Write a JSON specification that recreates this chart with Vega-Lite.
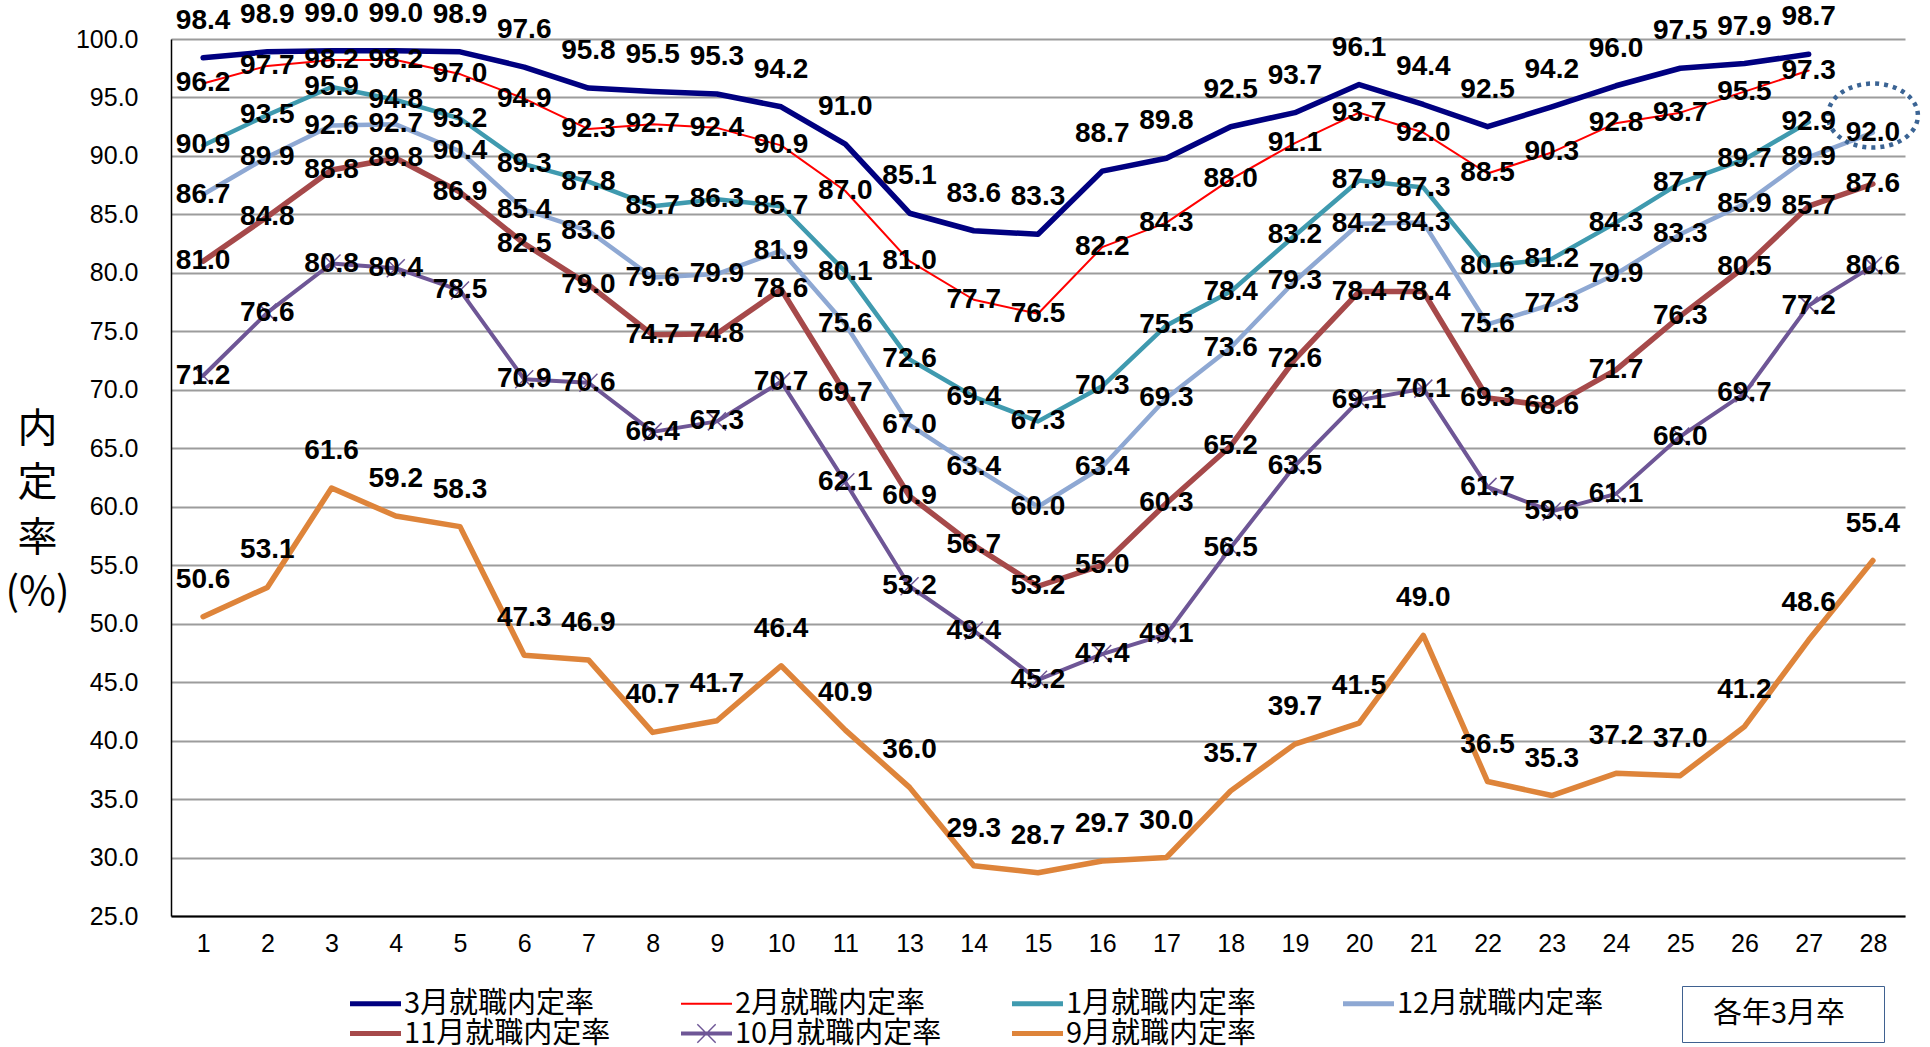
{
  "$schema": "https://vega.github.io/schema/vega-lite/v6.json",
  "width": 1734,
  "height": 877,
  "autosize": {"type": "none"},
  "padding": {"left": 171, "top": 39, "right": 25, "bottom": 131},
  "background": "white",
  "config": {"view": {"stroke": null}, "font": "Liberation Sans"},
  "layer": [
    {
      "data": {
        "values": [
          {"x": 1, "3月就職内定率": 98.4, "2月就職内定率": 96.2, "1月就職内定率": 90.9, "12月就職内定率": 86.7, "11月就職内定率": 81.0, "10月就職内定率": 71.2, "9月就職内定率": 50.6},
          {"x": 2, "3月就職内定率": 98.9, "2月就職内定率": 97.7, "1月就職内定率": 93.5, "12月就職内定率": 89.9, "11月就職内定率": 84.8, "10月就職内定率": 76.6, "9月就職内定率": 53.1},
          {"x": 3, "3月就職内定率": 99.0, "2月就職内定率": 98.2, "1月就職内定率": 95.9, "12月就職内定率": 92.6, "11月就職内定率": 88.8, "10月就職内定率": 80.8, "9月就職内定率": 61.6},
          {"x": 4, "3月就職内定率": 99.0, "2月就職内定率": 98.2, "1月就職内定率": 94.8, "12月就職内定率": 92.7, "11月就職内定率": 89.8, "10月就職内定率": 80.4, "9月就職内定率": 59.2},
          {"x": 5, "3月就職内定率": 98.9, "2月就職内定率": 97.0, "1月就職内定率": 93.2, "12月就職内定率": 90.4, "11月就職内定率": 86.9, "10月就職内定率": 78.5, "9月就職内定率": 58.3},
          {"x": 6, "3月就職内定率": 97.6, "2月就職内定率": 94.9, "1月就職内定率": 89.3, "12月就職内定率": 85.4, "11月就職内定率": 82.5, "10月就職内定率": 70.9, "9月就職内定率": 47.3},
          {"x": 7, "3月就職内定率": 95.8, "2月就職内定率": 92.3, "1月就職内定率": 87.8, "12月就職内定率": 83.6, "11月就職内定率": 79.0, "10月就職内定率": 70.6, "9月就職内定率": 46.9},
          {"x": 8, "3月就職内定率": 95.5, "2月就職内定率": 92.7, "1月就職内定率": 85.7, "12月就職内定率": 79.6, "11月就職内定率": 74.7, "10月就職内定率": 66.4, "9月就職内定率": 40.7},
          {"x": 9, "3月就職内定率": 95.3, "2月就職内定率": 92.4, "1月就職内定率": 86.3, "12月就職内定率": 79.9, "11月就職内定率": 74.8, "10月就職内定率": 67.3, "9月就職内定率": 41.7},
          {"x": 10, "3月就職内定率": 94.2, "2月就職内定率": 90.9, "1月就職内定率": 85.7, "12月就職内定率": 81.9, "11月就職内定率": 78.6, "10月就職内定率": 70.7, "9月就職内定率": 46.4},
          {"x": 11, "3月就職内定率": 91.0, "2月就職内定率": 87.0, "1月就職内定率": 80.1, "12月就職内定率": 75.6, "11月就職内定率": 69.7, "10月就職内定率": 62.1, "9月就職内定率": 40.9},
          {"x": 13, "3月就職内定率": 85.1, "2月就職内定率": 81.0, "1月就職内定率": 72.6, "12月就職内定率": 67.0, "11月就職内定率": 60.9, "10月就職内定率": 53.2, "9月就職内定率": 36.0},
          {"x": 14, "3月就職内定率": 83.6, "2月就職内定率": 77.7, "1月就職内定率": 69.4, "12月就職内定率": 63.4, "11月就職内定率": 56.7, "10月就職内定率": 49.4, "9月就職内定率": 29.3},
          {"x": 15, "3月就職内定率": 83.3, "2月就職内定率": 76.5, "1月就職内定率": 67.3, "12月就職内定率": 60.0, "11月就職内定率": 53.2, "10月就職内定率": 45.2, "9月就職内定率": 28.7},
          {"x": 16, "3月就職内定率": 88.7, "2月就職内定率": 82.2, "1月就職内定率": 70.3, "12月就職内定率": 63.4, "11月就職内定率": 55.0, "10月就職内定率": 47.4, "9月就職内定率": 29.7},
          {"x": 17, "3月就職内定率": 89.8, "2月就職内定率": 84.3, "1月就職内定率": 75.5, "12月就職内定率": 69.3, "11月就職内定率": 60.3, "10月就職内定率": 49.1, "9月就職内定率": 30.0},
          {"x": 18, "3月就職内定率": 92.5, "2月就職内定率": 88.0, "1月就職内定率": 78.4, "12月就職内定率": 73.6, "11月就職内定率": 65.2, "10月就職内定率": 56.5, "9月就職内定率": 35.7},
          {"x": 19, "3月就職内定率": 93.7, "2月就職内定率": 91.1, "1月就職内定率": 83.2, "12月就職内定率": 79.3, "11月就職内定率": 72.6, "10月就職内定率": 63.5, "9月就職内定率": 39.7},
          {"x": 20, "3月就職内定率": 96.1, "2月就職内定率": 93.7, "1月就職内定率": 87.9, "12月就職内定率": 84.2, "11月就職内定率": 78.4, "10月就職内定率": 69.1, "9月就職内定率": 41.5},
          {"x": 21, "3月就職内定率": 94.4, "2月就職内定率": 92.0, "1月就職内定率": 87.3, "12月就職内定率": 84.3, "11月就職内定率": 78.4, "10月就職内定率": 70.1, "9月就職内定率": 49.0},
          {"x": 22, "3月就職内定率": 92.5, "2月就職内定率": 88.5, "1月就職内定率": 80.6, "12月就職内定率": 75.6, "11月就職内定率": 69.3, "10月就職内定率": 61.7, "9月就職内定率": 36.5},
          {"x": 23, "3月就職内定率": 94.2, "2月就職内定率": 90.3, "1月就職内定率": 81.2, "12月就職内定率": 77.3, "11月就職内定率": 68.6, "10月就職内定率": 59.6, "9月就職内定率": 35.3},
          {"x": 24, "3月就職内定率": 96.0, "2月就職内定率": 92.8, "1月就職内定率": 84.3, "12月就職内定率": 79.9, "11月就職内定率": 71.7, "10月就職内定率": 61.1, "9月就職内定率": 37.2},
          {"x": 25, "3月就職内定率": 97.5, "2月就職内定率": 93.7, "1月就職内定率": 87.7, "12月就職内定率": 83.3, "11月就職内定率": 76.3, "10月就職内定率": 66.0, "9月就職内定率": 37.0},
          {"x": 26, "3月就職内定率": 97.9, "2月就職内定率": 95.5, "1月就職内定率": 89.7, "12月就職内定率": 85.9, "11月就職内定率": 80.5, "10月就職内定率": 69.7, "9月就職内定率": 41.2},
          {"x": 27, "3月就職内定率": 98.7, "2月就職内定率": 97.3, "1月就職内定率": 92.9, "12月就職内定率": 89.9, "11月就職内定率": 85.7, "10月就職内定率": 77.2, "9月就職内定率": 48.6},
          {"x": 28, "12月就職内定率": 92.0, "11月就職内定率": 87.6, "10月就職内定率": 80.6, "9月就職内定率": 55.4}
        ]
      },
      "transform": [
        {"fold": ["3月就職内定率", "2月就職内定率", "1月就職内定率", "12月就職内定率", "11月就職内定率", "10月就職内定率", "9月就職内定率"], "as": ["series", "value"]},
        {"filter": "datum.value != null"}
      ],
      "encoding": {
        "x": {
          "field": "x",
          "type": "ordinal",
          "scale": {"type": "point", "padding": 0.5, "domain": [1, 2, 3, 4, 5, 6, 7, 8, 9, 10, 11, 13, 14, 15, 16, 17, 18, 19, 20, 21, 22, 23, 24, 25, 26, 27, 28]},
          "axis": {
            "title": null,
            "labelAngle": 0,
            "labelFont": "Liberation Sans",
            "labelFontSize": 25,
            "labelColor": "#000000",
            "ticks": false,
            "tickSize": 0,
            "labelPadding": 15,
            "domainColor": "#000000",
            "domainWidth": 2,
            "grid": false
          }
        },
        "y": {
          "field": "value",
          "type": "quantitative",
          "scale": {"domain": [25, 100], "nice": false, "zero": false},
          "axis": {
            "title": ["内", "定", "率", "(%)"],
            "titleAngle": 0,
            "titleFont": "Noto Sans CJK JP",
            "titleFontSize": 40,
            "titleFontWeight": "normal",
            "titleColor": "#000000",
            "titleLineHeight": 54.5,
            "titleX": -134,
            "titleY": 370,
            "titleAlign": "center",
            "titleBaseline": "top",
            "values": [25, 30, 35, 40, 45, 50, 55, 60, 65, 70, 75, 80, 85, 90, 95, 100],
            "format": ".1f",
            "labelFont": "Liberation Sans",
            "labelFontSize": 25,
            "labelColor": "#000000",
            "ticks": false,
            "tickSize": 0,
            "labelPadding": 33,
            "domainColor": "#000000",
            "domainWidth": 1.5,
            "gridColor": "#9c9c9c",
            "gridWidth": 2
          }
        }
      },
      "layer": [
        {
          "mark": {"type": "line", "strokeCap": "round", "strokeJoin": "round"},
          "encoding": {
            "color": {
              "field": "series",
              "type": "nominal",
              "scale": {
                "domain": ["3月就職内定率", "2月就職内定率", "1月就職内定率", "12月就職内定率", "11月就職内定率", "10月就職内定率", "9月就職内定率"],
                "range": ["#000080", "#ff0000", "#3f9aaf", "#8ea8d3", "#a6494a", "#6e5696", "#de843a"]
              },
              "legend": {
                "orient": "none",
                "legendX": 190,
                "legendY": 950,
                "direction": "horizontal",
                "columns": 4,
                "gridAlign": "all",
                "title": null,
                "padding": 0,
                "labelFont": "Noto Sans CJK JP",
                "labelFontSize": 29,
                "labelColor": "#000000",
                "labelLimit": 400,
                "symbolSize": 416,
                "labelOffset": 14,
                "columnPadding": 70,
                "rowPadding": 0,
                "encode": {
                  "symbols": {
                    "update": {
                      "shape": {"signal": "datum.value === '10月就職内定率' ? 'M -2.5 -0.2 L 2.5 -0.2 L 2.5 0.2 L -2.5 0.2 Z M -0.85 -0.95 L 0.95 0.85 L 0.85 0.95 L -0.95 -0.85 Z M -0.95 0.85 L 0.85 -0.95 L 0.95 -0.85 L -0.85 0.95 Z' : datum.value === '2月就職内定率' ? 'M -2.5 -0.1 L 2.5 -0.1 L 2.5 0.1 L -2.5 0.1 Z' : 'M -2.5 -0.25 L 2.5 -0.25 L 2.5 0.25 L -2.5 0.25 Z'"},
                      "fill": {"signal": "scale('color', datum.value)"},
                      "fillOpacity": {"value": 1},
                      "opacity": {"value": 1},
                      "stroke": {"value": "transparent"},
                      "strokeWidth": {"value": 0}
                    }
                  }
                }
              }
            },
            "strokeWidth": {
              "condition": [
                {"test": "datum.series === '2月就職内定率'", "value": 2},
                {"test": "datum.series === '10月就職内定率'", "value": 4},
                {"test": "datum.series === '1月就職内定率' || datum.series === '12月就職内定率'", "value": 4.5}
              ],
              "value": 5.5
            }
          }
        },
        {
          "transform": [{"filter": "datum.series === '10月就職内定率'"}],
          "mark": {"type": "point", "shape": "M -1 -1 L 1 1 M -1 1 L 1 -1", "size": 324, "filled": false, "stroke": "#6e5696", "strokeWidth": 1.5, "opacity": 1}
        },
        {
          "transform": [{"filter": "datum.series === '12月就職内定率' && datum.x === 28"}],
          "mark": {"type": "point", "shape": "M -1 0 A 1 0.711 0 1 1 1 0 A 1 0.711 0 1 1 -1 0 Z", "size": 8100, "filled": false, "stroke": "#3b6494", "strokeWidth": 4.5, "strokeDash": [4, 5], "yOffset": -17, "opacity": 1}
        },
        {
          "transform": [{"filter": "datum.series === '3月就職内定率' || datum.series === '9月就職内定率'"}],
          "mark": {"type": "text", "dy": -37, "baseline": "middle", "align": "center", "font": "Liberation Sans", "fontWeight": "bold", "fontSize": 28, "fill": "#000000"},
          "encoding": {"text": {"field": "value", "type": "quantitative", "format": ".1f"}}
        },
        {
          "transform": [{"filter": "datum.series !== '3月就職内定率' && datum.series !== '9月就職内定率'"}],
          "mark": {"type": "text", "baseline": "middle", "align": "center", "font": "Liberation Sans", "fontWeight": "bold", "fontSize": 28, "fill": "#000000"},
          "encoding": {"text": {"field": "value", "type": "quantitative", "format": ".1f"}}
        }
      ]
    },
    {
      "data": {"values": [{"note": "各年3月卒"}]},
      "mark": {"type": "point", "opacity": 0},
      "encoding": {
        "fill": {
          "field": "note",
          "type": "nominal",
          "scale": {"domain": ["各年3月卒", " "], "range": ["#ffffff", "#ffffff"]},
          "legend": {
            "orient": "none",
            "legendX": 1511,
            "legendY": 947,
            "direction": "horizontal",
            "columns": 2,
            "gridAlign": "none",
            "columnPadding": 7,
            "title": null,
            "padding": 13,
            "strokeColor": "#3f6190",
            "fillColor": "#ffffff",
            "symbolSize": 0,
            "symbolOpacity": 0,
            "labelOffset": -11,
            "labelFont": "Noto Sans CJK JP",
            "labelFontSize": 29,
            "labelColor": "#000000",
            "encode": {"legend": {"update": {"strokeWidth": {"value": 2}}}}
          }
        }
      }
    }
  ]
}
